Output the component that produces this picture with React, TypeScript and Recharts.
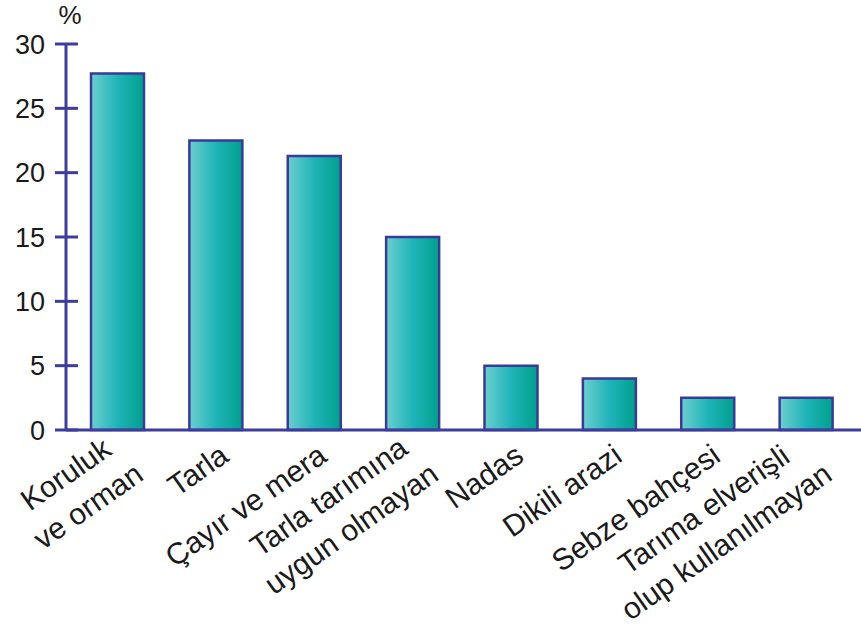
import React from "react";
import { BarChart, Bar, XAxis, YAxis } from "recharts";

// Arazi kullanımı (%)
const categories = [
  "Koruluk\nve orman",
  "Tarla",
  "Çayır ve mera",
  "Tarla tarımına\nuygun olmayan",
  "Nadas",
  "Dikili arazi",
  "Sebze bahçesi",
  "Tarıma elverişli\nolup kullanılmayan",
];
const values = [27.7, 22.5, 21.3, 15.0, 5.0, 4.0, 2.5, 2.5];
const yTicks = [0, 5, 10, 15, 20, 25, 30];

const data = categories.map((name, i) => ({ name, value: values[i] }));

const AXIS = "#3d3d9e";
const FONT = '"Liberation Sans", Arial, Helvetica, sans-serif';
const LABEL_SIZE = 30;
const LINE_H = 39;

let ctx: CanvasRenderingContext2D | null = null;
function textWidth(s: string) {
  if (!ctx && typeof document !== "undefined") {
    ctx = document.createElement("canvas").getContext("2d");
  }
  if (!ctx) return s.length * LABEL_SIZE * 0.5;
  ctx.font = `${LABEL_SIZE}px ${FONT}`;
  return ctx.measureText(s).width;
}

function YTick(props: any) {
  const { x, y, payload } = props;
  return (
    <g>
      <line x1={x + 10} x2={x + 33} y1={y} y2={y} stroke={AXIS} strokeWidth={3} />
      <text x={x} y={y} dy="0.36em" textAnchor="end" fontSize={27} fontFamily={FONT} fill="#1a1a1a">
        {payload.value}
      </text>
    </g>
  );
}

function XTick(props: any) {
  const { x, y, payload } = props;
  const lines: string[] = String(payload.value).split("\n");
  const widths = lines.map(textWidth);
  const maxW = Math.max(...widths);
  const top = lines.length > 1 ? 17 : 33;
  return (
    <g transform={`translate(${x},${y}) rotate(-35)`}>
      {lines.map((ln, i) => (
        <text
          key={i}
          x={-5 - (maxW - widths[i]) / 2}
          y={top + i * LINE_H}
          textAnchor="end"
          fontSize={LABEL_SIZE}
          fontFamily={FONT}
          fill="#1a1a1a"
        >
          {ln}
        </text>
      ))}
    </g>
  );
}

export default function App() {
  return (
    <div style={{ position: "absolute", left: 0, top: 0, background: "#fff" }}>
      <BarChart width={861} height={626} data={data} margin={{ top: 44, right: 0, bottom: 0, left: 0 }}>
        <defs>
          <linearGradient id="barGrad" x1="0" y1="0" x2="1" y2="0">
            <stop offset="0%" stopColor="#6ccfcf" />
            <stop offset="50%" stopColor="#1fb4b8" />
            <stop offset="100%" stopColor="#00a08c" />
          </linearGradient>
        </defs>
        <XAxis
          dataKey="name"
          height={196}
          interval={0}
          tickLine={false}
          tickSize={0}
          tickMargin={0}
          axisLine={{ stroke: AXIS, strokeWidth: 3 }}
          padding={{ left: 2, right: 6 }}
          tick={<XTick />}
        />
        <YAxis
          width={66}
          domain={[0, 30]}
          ticks={yTicks}
          tickLine={false}
          tickSize={0}
          tickMargin={21}
          axisLine={{ stroke: AXIS, strokeWidth: 3 }}
          tick={<YTick />}
          label={{
            content: (p: any) => {
              const vb = p.viewBox || {};
              return (
                <text x={(vb.x || 0) + (vb.width || 0) + 4} y={(vb.y || 0) - 20} textAnchor="middle" fontSize={26} fontFamily={FONT} fill="#1a1a1a">
                  %
                </text>
              );
            },
          }}
        />
        <Bar
          dataKey="value"
          barSize={53}
          fill="url(#barGrad)"
          stroke="#3a3a9a"
          strokeWidth={2.5}
          isAnimationActive={false}
        />
      </BarChart>
    </div>
  );
}
